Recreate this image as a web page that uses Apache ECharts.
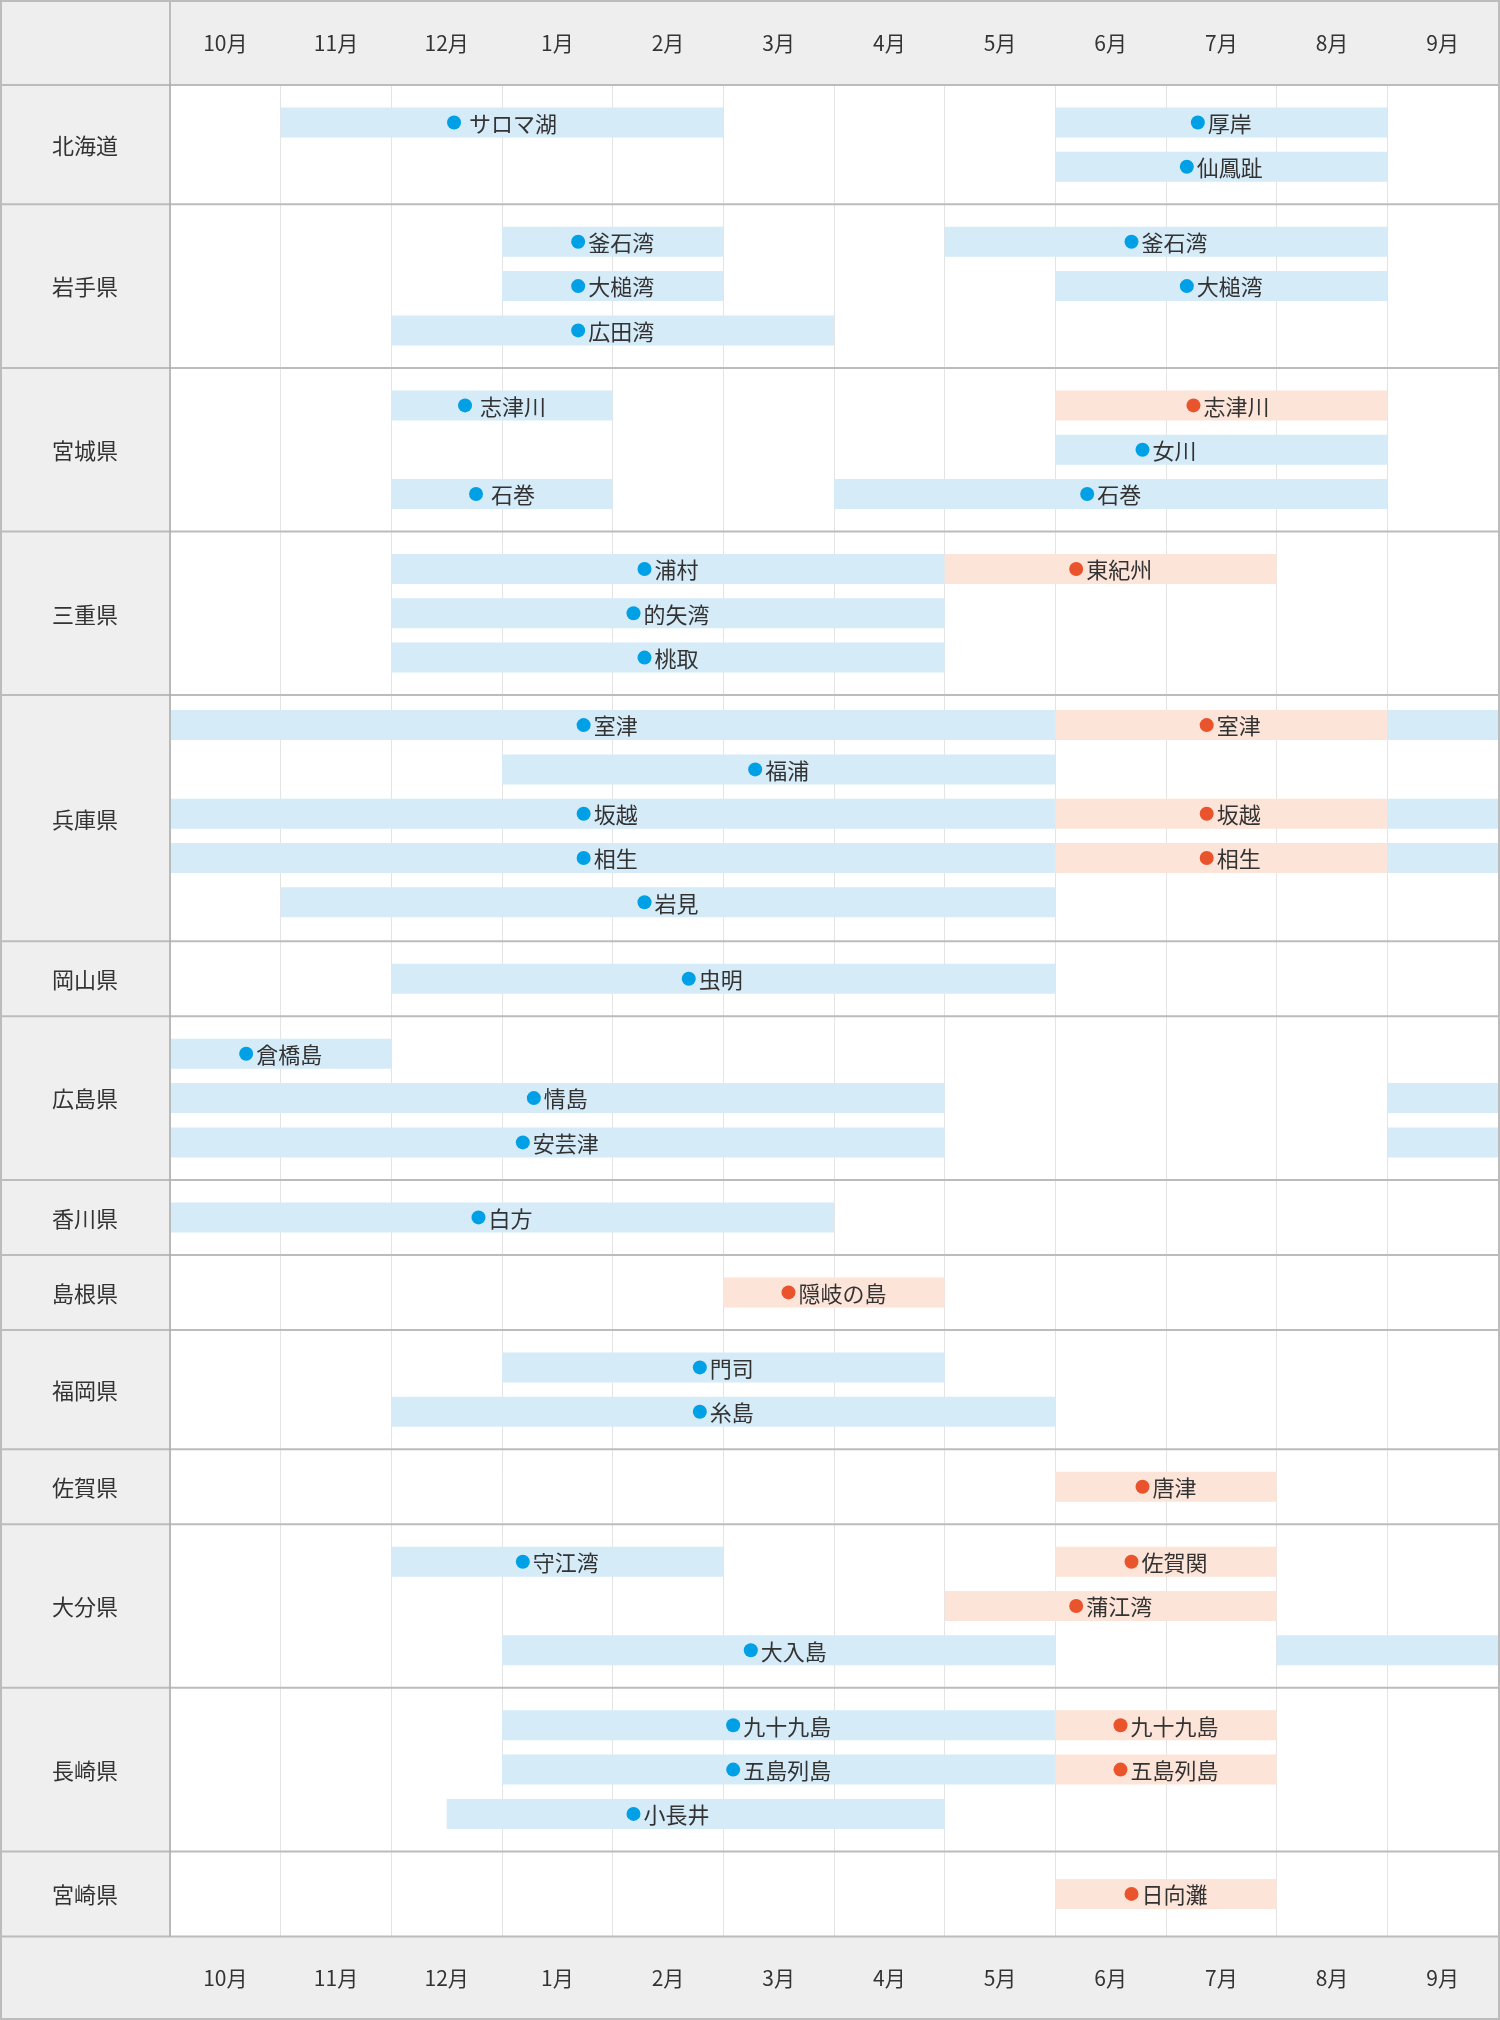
<!DOCTYPE html>
<html><head><meta charset="utf-8">
<script src="https://cdn.jsdelivr.net/npm/echarts@6/dist/echarts.min.js"></script>
<style>html,body{margin:0;padding:0;background:#fff}#c{width:1500px;height:2020px}</style>
</head><body><div id="c"></div><script>
// ---------- data ----------
const months = ['10月','11月','12月','1月','2月','3月','4月','5月','6月','7月','8月','9月'];
const prefectures = ['北海道','岩手県','宮城県','三重県','兵庫県','岡山県','広島県','香川県','島根県','福岡県','佐賀県','大分県','長崎県','宮崎県'];
const laneCounts = [2,3,3,3,5,1,3,1,1,2,1,3,3,1];
const kinds = ['blue','orange'];
// [prefecture, lane, start (months from Oct), end, kind, label, label centre (optional, months)]
const bars = [
  ['北海道',0,1,5,0,' サロマ湖'], ['北海道',0,8,11,0,'厚岸'], ['北海道',1,8,11,0,'仙鳳趾'],
  ['岩手県',0,3,5,0,'釜石湾'], ['岩手県',0,7,11,0,'釜石湾'], ['岩手県',1,3,5,0,'大槌湾'], ['岩手県',1,8,11,0,'大槌湾'], ['岩手県',2,2,6,0,'広田湾'],
  ['宮城県',0,2,4,0,' 志津川'], ['宮城県',0,8,11,1,'志津川',9.56], ['宮城県',1,8,11,0,'女川',9.0], ['宮城県',2,2,4,0,' 石巻'], ['宮城県',2,6,11,0,'石巻'],
  ['三重県',0,2,7,0,'浦村'], ['三重県',0,7,10,1,'東紀州'], ['三重県',1,2,7,0,'的矢湾'], ['三重県',2,2,7,0,'桃取'],
  ['兵庫県',0,0,8,0,'室津',3.95], ['兵庫県',0,8,11,1,'室津',9.58], ['兵庫県',0,11,12,0,''],
  ['兵庫県',1,3,8,0,'福浦'],
  ['兵庫県',2,0,8,0,'坂越',3.95], ['兵庫県',2,8,11,1,'坂越',9.58], ['兵庫県',2,11,12,0,''],
  ['兵庫県',3,0,8,0,'相生',3.95], ['兵庫県',3,8,11,1,'相生',9.58], ['兵庫県',3,11,12,0,''],
  ['兵庫県',4,1,8,0,'岩見'],
  ['岡山県',0,2,8,0,'虫明',4.9],
  ['広島県',0,0,2,0,'倉橋島'], ['広島県',1,0,7,0,'情島'], ['広島県',1,11,12,0,''], ['広島県',2,0,7,0,'安芸津'], ['広島県',2,11,12,0,''],
  ['香川県',0,0,6,0,'白方'],
  ['島根県',0,5,7,1,'隠岐の島'],
  ['福岡県',0,3,7,0,'門司'], ['福岡県',1,2,8,0,'糸島'],
  ['佐賀県',0,8,10,1,'唐津'],
  ['大分県',0,2,5,0,'守江湾'], ['大分県',0,8,10,1,'佐賀関'], ['大分県',1,7,10,1,'蒲江湾'], ['大分県',2,3,8,0,'大入島',5.56], ['大分県',2,10,12,0,''],
  ['長崎県',0,3,8,0,'九十九島'], ['長崎県',0,8,10,1,'九十九島'], ['長崎県',1,3,8,0,'五島列島'], ['長崎県',1,8,10,1,'五島列島'], ['長崎県',2,2.5,7,0,'小長井',4.5],
  ['宮崎県',0,8,10,1,'日向灘']
];

// ---------- layout / style ----------
const W = 1500, H = 2020, LEFT = 170, RIGHT = 2, TOP = 85;
const LANE_PITCH = 44.3, BAR_H = 30, PAD = 22.5;
const PAD_TOP = {'兵庫県': 15, '宮崎県': 27.5};
const PAD_BOTTOM = {'兵庫県': 24, '宮崎県': 27.5};
const FONT = '"Noto Sans CJK JP", "Noto Sans CJK SC", sans-serif';
const FS = 22, DOT = 14, GAP = 3;
const FILL = {blue: '#d5ebf8', orange: '#fde4d8'};
const DOTC = {blue: '#00a0e6', orange: '#e9542d'};
const TEXT = '#333333', LINE = '#bcbcbc', HEADBG = '#eeeeee';

const mctx = document.createElement('canvas').getContext('2d');
mctx.font = FS + 'px ' + FONT;
const textW = s => mctx.measureText(s).width;

const regionTop = [], regionH = [], laneY = [];
let acc = 0;
prefectures.forEach((p, i) => {
  const t = PAD_TOP[p] ?? PAD, b = PAD_BOTTOM[p] ?? PAD;
  regionTop.push(acc);
  const ys = [];
  for (let l = 0; l < laneCounts[i]; l++) ys.push(acc + t + BAR_H / 2 + LANE_PITCH * l);
  laneY.push(ys);
  const h = t + BAR_H + LANE_PITCH * (laneCounts[i] - 1) + b;
  regionH.push(h);
  acc += h;
});
const TOTAL = acc;
const boundaries = regionTop.concat([TOTAL]);
const BOTTOM_Y = TOP + TOTAL;

const barData = bars.map(b => {
  const pi = prefectures.indexOf(b[0]);
  return [b[2], b[3], laneY[pi][b[1]], b[4], b.length > 6 ? b[6] : (b[2] + b[3]) / 2];
});

const chart = echarts.init(document.getElementById('c'), null, {renderer: 'canvas'});
const axisLbl = {fontFamily: FONT, fontSize: 21, color: TEXT, verticalAlign: 'middle'};
chart.setOption({
  animation: false,
  backgroundColor: '#ffffff',
  grid: {left: LEFT, right: RIGHT, top: TOP, height: TOTAL, containLabel: false},
  xAxis: [
    {type: 'value', min: 0, max: 12, interval: 1, position: 'bottom',
     axisLine: {show: false}, axisTick: {show: false}, axisLabel: {show: false},
     splitLine: {show: true, lineStyle: {color: '#e4e4e4', width: 1}}},
    {type: 'category', data: months, position: 'top', boundaryGap: true,
     axisLine: {show: false}, axisTick: {show: false}, splitLine: {show: false},
     axisLabel: Object.assign({margin: TOP / 2 - 1, interval: 0}, axisLbl)},
    {type: 'category', data: months, position: 'bottom', boundaryGap: true,
     axisLine: {show: false}, axisTick: {show: false}, splitLine: {show: false},
     axisLabel: Object.assign({margin: (H - BOTTOM_Y) / 2, interval: 0}, axisLbl)}
  ],
  yAxis: {type: 'value', min: 0, max: TOTAL, inverse: true,
    axisLine: {show: false}, axisTick: {show: false}, axisLabel: {show: false}, splitLine: {show: false}},
  graphic: [
    {type: 'rect', z: 0, shape: {x: 0, y: 0, width: W, height: TOP}, style: {fill: HEADBG}},
    {type: 'rect', z: 0, shape: {x: 0, y: BOTTOM_Y, width: W, height: H - BOTTOM_Y}, style: {fill: HEADBG}},
    {type: 'rect', z: 0, shape: {x: 0, y: TOP, width: LEFT, height: TOTAL}, style: {fill: '#efefef'}},
    {type: 'line', z: 100, shape: {x1: LEFT, y1: 0, x2: LEFT, y2: BOTTOM_Y}, style: {stroke: '#aaaaaa', lineWidth: 1.5}},
    {type: 'rect', z: 100, shape: {x: 1, y: 1, width: W - 2, height: H - 2}, style: {fill: 'none', stroke: LINE, lineWidth: 2}}
  ],
  series: [
    {
      type: 'custom', name: 'bars', xAxisIndex: 0, yAxisIndex: 0, z: 2,
      dimensions: ['start', 'end', 'y', 'kind', 'labelAt'],
      encode: {x: [0, 1], y: 2},
      data: barData,
      renderItem(params, api) {
        const s = api.value(0), e = api.value(1), yc = api.value(2);
        const kind = kinds[api.value(3)];
        const p0 = api.coord([s, yc]), p1 = api.coord([e, yc]);
        const h = api.size([0, BAR_H])[1];
        const children = [{type: 'rect', shape: {x: p0[0], y: p0[1] - h / 2, width: p1[0] - p0[0], height: h},
          style: {fill: FILL[kind]}}];
        const name = bars[params.dataIndex][5];
        if (name) {
          const lc = api.coord([api.value(4), yc])[0];
          const tw = textW(name);
          const left = lc - (DOT + GAP + tw) / 2;
          children.push({type: 'circle', shape: {cx: left + DOT / 2, cy: p0[1], r: DOT / 2}, style: {fill: DOTC[kind]}});
          children.push({type: 'text', x: left + DOT + GAP, y: p0[1] + 1,
            style: {text: name, fill: TEXT, fontSize: FS, fontFamily: FONT, align: 'left', verticalAlign: 'middle'}});
        }
        return {type: 'group', children};
      }
    },
    {
      type: 'custom', name: 'separators', z: 3, clip: false,
      encode: {x: 0, y: 1},
      data: boundaries.map(v => [0, v]),
      renderItem(params, api) {
        const y = api.coord([0, api.value(1)])[1];
        const cs = params.coordSys;
        return {type: 'line', shape: {x1: 0, y1: y, x2: cs.x + cs.width, y2: y},
          style: {stroke: LINE, lineWidth: 2}};
      }
    },
    {
      type: 'custom', name: 'prefectures', z: 3, clip: false,
      encode: {x: 0, y: 1},
      data: prefectures.map((p, i) => [0, regionTop[i] + regionH[i] / 2]),
      renderItem(params, api) {
        const y = api.coord([0, api.value(1)])[1];
        const cs = params.coordSys;
        return {type: 'text', x: cs.x / 2, y: y + 1,
          style: {text: prefectures[params.dataIndex], fill: TEXT, fontSize: FS, fontFamily: FONT,
            align: 'center', verticalAlign: 'middle'}};
      }
    }
  ]
});
</script></body></html>
